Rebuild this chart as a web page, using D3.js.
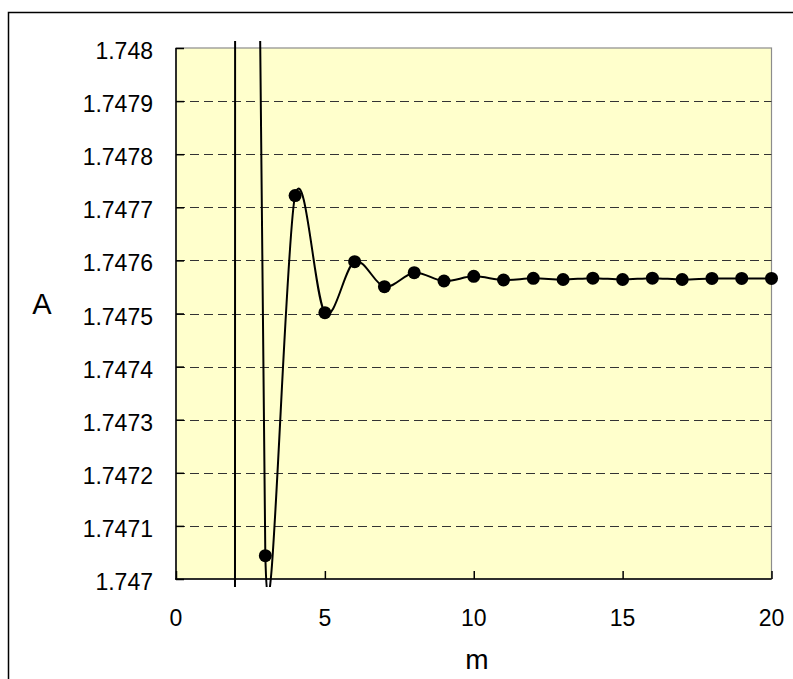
<!DOCTYPE html>
<html>
<head>
<meta charset="utf-8">
<script src="https://cdn.jsdelivr.net/npm/d3@7"></script>
<style>
  html, body { margin: 0; padding: 0; background: #fff; }
  svg { display: block; }
  text { font-family: "Liberation Sans", Arial, sans-serif; fill: #000; }
</style>
</head>
<body>
<svg id="chart" width="793" height="679"></svg>
<script>
// ---- data ----
const mValues = [1, 2, 3, 4, 5, 6, 7, 8, 9, 10, 11, 12, 13, 14, 15, 16, 17, 18, 19, 20];
const aValues = [1.456, 1.752, 1.747044, 1.747722, 1.7475015, 1.7475976, 1.7475505, 1.7475768,
                 1.7475612, 1.747570, 1.7475631, 1.7475663, 1.747564, 1.7475666, 1.747564,
                 1.7475666, 1.747564, 1.747566, 1.747566, 1.747566];
const xTicks = [0, 5, 10, 15, 20];
const yTicks = [1.747, 1.7471, 1.7472, 1.7473, 1.7474, 1.7475, 1.7476, 1.7477, 1.7478, 1.7479, 1.748];
const yTickLabels = ["1.747", "1.7471", "1.7472", "1.7473", "1.7474", "1.7475", "1.7476", "1.7477", "1.7478", "1.7479", "1.748"];
const xTitle = "m";
const yTitle = "A";

// ---- layout ----
const L = 176, R = 771.5, T = 48, B = 579;
const svg = d3.select("#chart");
const x = d3.scaleLinear().domain([0, 20]).range([L, R]);
const y = d3.scaleLinear().domain([1.747, 1.748]).range([B, T]);

// outer chart border
svg.append("rect").attr("x", 8.5).attr("y", 12.5).attr("width", 800).attr("height", 700)
  .attr("fill", "#fff").attr("stroke", "#000").attr("stroke-width", 1.5);

// plot area
svg.append("rect").attr("x", L).attr("y", T).attr("width", R - L).attr("height", B - T)
  .attr("fill", "#FFFFCC").attr("stroke", "#8c8c8c").attr("stroke-width", 1.2);

// gridlines
svg.append("g").selectAll("line")
  .data(yTicks.filter(v => v > 1.747 + 1e-9 && v < 1.748 - 1e-9))
  .join("line")
  .attr("x1", L).attr("x2", R)
  .attr("y1", d => Math.round(y(d)) + 0.5).attr("y2", d => Math.round(y(d)) + 0.5)
  .attr("stroke", "#333").attr("stroke-width", 1)
  .attr("stroke-dasharray", "9,5");

// axes (inside ticks)
const yAxis = d3.axisRight(y).tickValues(yTicks).tickSize(8).tickFormat("");
const gy = svg.append("g").attr("transform", `translate(${L},0)`).call(yAxis);
gy.select(".domain").remove();
gy.selectAll("line").attr("stroke", "#000").attr("stroke-width", 1.5);

const xAxis = d3.axisTop(x).tickValues(xTicks).tickSize(8).tickFormat("");
const gx = svg.append("g").attr("transform", `translate(0,${B})`).call(xAxis);
gx.select(".domain").remove();
gx.selectAll("line").attr("stroke", "#000").attr("stroke-width", 1.5);

svg.append("line").attr("x1", L).attr("x2", L).attr("y1", T).attr("y2", B + 0.75)
  .attr("stroke", "#000").attr("stroke-width", 1.5);
svg.append("line").attr("x1", L - 0.75).attr("x2", R).attr("y1", B).attr("y2", B)
  .attr("stroke", "#000").attr("stroke-width", 1.5);

// tick labels
svg.append("g").selectAll("text").data(yTicks).join("text")
  .attr("x", 153).attr("y", d => y(d) + 11)
  .attr("text-anchor", "end").attr("font-size", 23)
  .text((d, i) => yTickLabels[i]);

svg.append("g").selectAll("text").data(xTicks).join("text")
  .attr("x", d => x(d)).attr("y", 626)
  .attr("text-anchor", "middle").attr("font-size", 23)
  .text(d => d);

// axis titles
svg.append("text").attr("x", 42).attr("y", 314).attr("text-anchor", "middle")
  .attr("font-size", 29).text(yTitle);
svg.append("text").attr("x", 477).attr("y", 669).attr("text-anchor", "middle")
  .attr("font-size", 28).text(xTitle);

// smoothed line (Excel-style Bezier smoothing)
const pts = mValues.map((m, i) => [x(m), y(aValues[i])]);
function dist(a, b) { return Math.hypot(b[0] - a[0], b[1] - a[1]); }
function smoothPath(p) {
  const path = d3.path();
  path.moveTo(p[0][0], p[0][1]);
  for (let i = 0; i < p.length - 1; i++) {
    const p0 = p[i - 1] || p[i], p1 = p[i], p2 = p[i + 1], p3 = p[i + 2] || p[i + 1];
    const d12 = dist(p1, p2), d02 = dist(p0, p2), d13 = dist(p1, p3);
    let f0 = 1 / 6, f1 = 1 / 6;
    if (d02 / 6 > d12 / 2 && d02 > 0) f0 = d12 / (2 * d02);
    if (d13 / 6 > d12 / 2 && d13 > 0) f1 = d12 / (2 * d13);
    const c1 = [p1[0] + f0 * (p2[0] - p0[0]), p1[1] + f0 * (p2[1] - p0[1])];
    const c2 = [p2[0] - f1 * (p3[0] - p1[0]), p2[1] - f1 * (p3[1] - p1[1])];
    path.bezierCurveTo(c1[0], c1[1], c2[0], c2[1], p2[0], p2[1]);
  }
  return path.toString();
}

svg.append("clipPath").attr("id", "clip")
  .append("rect").attr("x", L).attr("y", 41).attr("width", R - L).attr("height", 546);

svg.append("path").attr("d", smoothPath(pts))
  .attr("fill", "none").attr("stroke", "#000").attr("stroke-width", 2)
  .attr("clip-path", "url(#clip)");

// markers (only those inside the plot range)
svg.append("g").selectAll("circle")
  .data(mValues.map((m, i) => ({ m, a: aValues[i] })).filter(d => d.a >= 1.747 && d.a <= 1.748))
  .join("circle")
  .attr("cx", d => x(d.m)).attr("cy", d => y(d.a)).attr("r", 6.5)
  .attr("fill", "#000");
</script>
</body>
</html>
